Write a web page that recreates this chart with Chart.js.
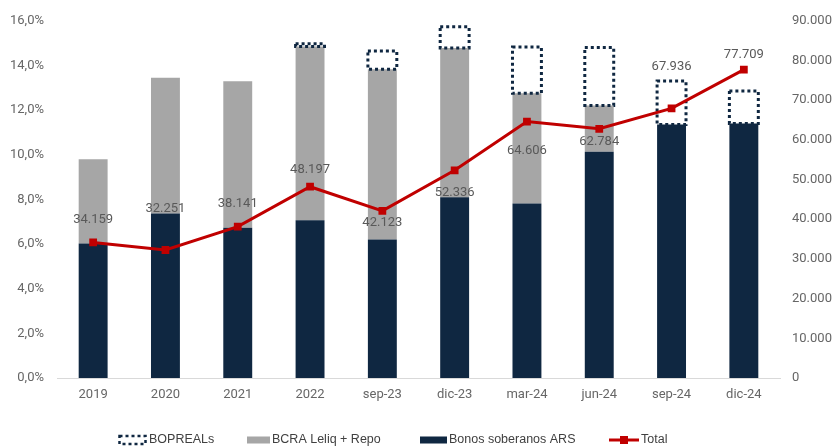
<!DOCTYPE html>
<html>
<head>
<meta charset="utf-8">
<title>Tenencias</title>
<script src="https://cdn.jsdelivr.net/npm/chart.js@4.4.1/dist/chart.umd.min.js"></script>
<style>
  html, body { margin: 0; padding: 0; background: #fff; }
  #wrap { position: relative; width: 835px; height: 448px; }
</style>
</head>
<body>
<div id="wrap"><canvas id="chart" width="835" height="448"></canvas></div>
<script>
// ---------------------------------------------------------------- DATA
var periodos = ['2019', '2020', '2021', '2022', 'sep-23', 'dic-23', 'mar-24', 'jun-24', 'sep-24', 'dic-24'];

// % (eje izquierdo)
var bonosSoberanos = [6.03, 7.37, 6.73, 7.07, 6.20, 8.10, 7.82, 10.13, 11.36, 11.40];
var bcraLeliqRepo  = [3.77, 6.08, 6.56, 7.78, 7.63, 6.68, 4.93, 2.08, 0, 0];
var bopreals       = [0, 0, 0, 0.12, 0.82, 0.95, 2.08, 2.59, 1.94, 1.46];

// total (eje derecho)
var total = [34159, 32251, 38141, 48197, 42123, 52336, 64606, 62784, 67936, 77709];

// desplazamiento vertical de cada etiqueta del total (px, negativo = arriba)
var desplazEtiquetas = [-23, -41, -23, -17, 12, 22, 29, 13, -42, -15];

// ---------------------------------------------------------------- ESTILO
var NAVY = '#0f2741';
var GRIS = '#a6a6a6';
var ROJO = '#c00000';
var TEXTO = '#595959';
var FUENTE = 'Roboto, "Liberation Sans", Arial, sans-serif';

function miles(n) {
  return String(n).replace(/\B(?=(\d{3})+(?!\d))/g, '.');
}

// leyenda: icono + texto, en una fila debajo del eje
var leyenda = [
  { texto: 'BOPREALs', x: 118, ancho: 29, tipo: 'punteado' },
  { texto: 'BCRA Leliq + Repo', x: 247, ancho: 23, tipo: GRIS },
  { texto: 'Bonos soberanos ARS', x: 420, ancho: 27, tipo: NAVY },
  { texto: 'Total', x: 609, ancho: 30, tipo: 'linea' }
];

var dibujarLeyenda = {
  id: 'dibujarLeyenda',
  afterDraw: function (chart) {
    var ctx = chart.ctx;
    var yc = 440;
    ctx.save();
    ctx.font = '12.5px "Liberation Sans", Arial, sans-serif';
    ctx.fillStyle = '#404040';
    ctx.textBaseline = 'middle';
    leyenda.forEach(function (it) {
      if (it.tipo === 'punteado') {
        ctx.save();
        ctx.strokeStyle = NAVY; ctx.lineWidth = 2.5; ctx.setLineDash([3, 3]);
        ctx.strokeRect(it.x + 1.5, yc - 4, it.ancho - 3, 8);
        ctx.restore();
      } else if (it.tipo === 'linea') {
        ctx.save();
        ctx.strokeStyle = ROJO; ctx.lineWidth = 3;
        ctx.beginPath(); ctx.moveTo(it.x, yc); ctx.lineTo(it.x + it.ancho, yc); ctx.stroke();
        ctx.fillStyle = ROJO;
        ctx.fillRect(it.x + it.ancho / 2 - 4, yc - 4, 8, 8);
        ctx.restore();
      } else {
        ctx.save();
        ctx.fillStyle = it.tipo;
        ctx.fillRect(it.x, yc - 3.5, it.ancho, 7);
        ctx.restore();
      }
      ctx.fillText(it.texto, it.x + it.ancho + 2, yc);
    });
    ctx.restore();
  }
};

// borde punteado de los BOPREALs, antes de dibujar la linea
var bordePunteado = {
  id: 'bordePunteado',
  beforeDatasetDraw: function (chart, args) {
    if (args.index !== 0) return;
    var meta = chart.getDatasetMeta(3);
    var ctx = chart.ctx;
    ctx.save();
    ctx.strokeStyle = NAVY;
    ctx.lineWidth = 3;
    ctx.setLineDash([3, 3]);
    meta.data.forEach(function (bar, i) {
      if (!bopreals[i]) return;
      var p = bar.getProps(['x', 'y', 'base', 'width'], true);
      ctx.strokeRect(p.x - p.width / 2, p.y, p.width, p.base - p.y);
    });
    ctx.restore();
  }
};

// etiquetas con el valor del total
var etiquetasTotal = {
  id: 'etiquetasTotal',
  afterDatasetsDraw: function (chart) {
    var meta = chart.getDatasetMeta(0);
    var ctx = chart.ctx;
    ctx.save();
    ctx.font = '13px ' + FUENTE;
    ctx.fillStyle = TEXTO;
    ctx.textAlign = 'center';
    ctx.textBaseline = 'middle';
    meta.data.forEach(function (pt, i) {
      ctx.fillText(miles(total[i]), pt.x, pt.y + desplazEtiquetas[i]);
    });
    ctx.restore();
  }
};

// ---------------------------------------------------------------- CHART
var config = {
  type: 'bar',
  data: {
    labels: periodos,
    datasets: [{
      type: 'line',
      label: 'Total',
      data: total,
      yAxisID: 'y2',
      borderColor: ROJO,
      backgroundColor: ROJO,
      borderWidth: 3,
      pointStyle: 'rect',
      pointRadius: 5.5,
      pointBorderWidth: 0,
      tension: 0
    }, {
      label: 'Bonos soberanos ARS',
      data: bonosSoberanos,
      backgroundColor: NAVY,
      yAxisID: 'y'
    }, {
      label: 'BCRA Leliq + Repo',
      data: bcraLeliqRepo,
      backgroundColor: GRIS,
      yAxisID: 'y'
    }, {
      label: 'BOPREALs',
      data: bopreals,
      backgroundColor: 'rgba(255,255,255,0)',
      yAxisID: 'y'
    }]
  },
  options: {
    responsive: false,
    animation: false,
    barPercentage: 0.4,
    categoryPercentage: 1,
    layout: { padding: { top: 20, left: 0, right: 0, bottom: 31 } },
    plugins: {
      tooltip: { enabled: false },
      legend: { display: false }
    },
    scales: {
      x: {
        stacked: true,
        grid: { display: false, drawTicks: false },
        border: { display: true, color: '#d9d9d9', width: 1 },
        ticks: { color: '#666', font: { family: FUENTE, size: 13 }, padding: 9, maxRotation: 0 },
        afterFit: function (s) { s.height = 39; }
      },
      y: {
        stacked: true,
        position: 'left',
        min: 0, max: 16,
        grid: { display: false, drawTicks: false },
        border: { display: false },
        ticks: {
          stepSize: 2, padding: 13, color: '#666', font: { family: FUENTE, size: 13 },
          callback: function (v) { return v.toFixed(1).replace('.', ',') + '%'; }
        },
        afterFit: function (s) { s.width = 57; }
      },
      y2: {
        position: 'right',
        min: 0, max: 90000,
        grid: { display: false, drawTicks: false },
        border: { display: false },
        ticks: {
          stepSize: 10000, padding: 12, color: '#666', font: { family: FUENTE, size: 13 },
          callback: function (v) { return miles(v); }
        },
        afterFit: function (s) { s.width = 55; }
      }
    }
  },
  plugins: [bordePunteado, etiquetasTotal, dibujarLeyenda]
};

var grafico = new Chart(document.getElementById('chart').getContext('2d'), config);
</script>
</body>
</html>
